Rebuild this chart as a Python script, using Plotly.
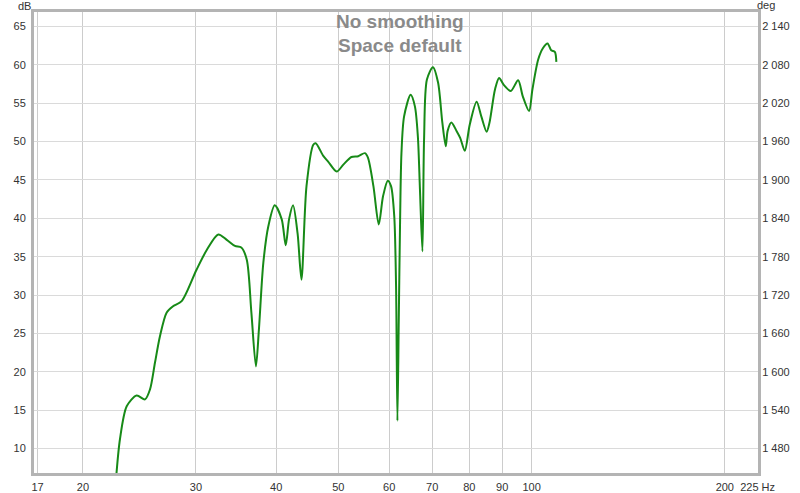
import math
import plotly.graph_objects as go

# ---- data ----
freq_hz = [22.56, 22.84, 23.4, 24.25, 24.99, 25.44, 25.9, 26.36, 27.0, 27.6, 28.5,
           30.06, 31.2, 32.5, 33.5, 34.5, 35.3, 36.0, 36.6, 37.2, 37.6, 38.2, 38.9,
           39.8, 40.8, 41.4, 41.9, 42.5, 43.2, 43.8, 44.6, 45.7, 46.1, 47.4, 48.2,
           49.7, 50.9, 52.4, 53.7, 55.0, 55.6, 56.7, 57.8, 58.7, 59.7, 60.4, 61.1,
           61.5, 61.8, 62.1, 62.4, 62.7, 63.3, 64.8, 65.8, 66.5, 67.0, 67.6, 68.0,
           68.7, 70.2, 71.5, 72.6, 73.5, 74.0, 75.0, 76.4, 77.4, 78.7, 80.1, 82.1,
           83.5, 85.1, 86.0, 87.7, 89.0, 90.5, 92.8, 95.3, 96.9, 99.1, 100.3,
           102.4, 104.2, 105.9, 107.3, 108.7, 109.3]
spl_db = [6.8, 11.2, 15.5, 16.9, 16.4, 17.7, 21.2, 24.6, 27.7, 28.5, 29.2,
          33.3, 35.9, 37.9, 37.2, 36.4, 36.2, 34.6, 27.7, 20.7, 25.5, 34.2, 39.0,
          41.7, 39.9, 36.5, 39.9, 41.7, 38.0, 32.0, 44.2, 49.6, 49.8, 48.1, 47.4,
          46.1, 47.0, 48.0, 48.1, 48.5, 47.9, 44.2, 39.2, 42.9, 44.9, 44.2, 40.3,
          31.2, 13.6, 26.8, 39.9, 48.5, 53.3, 56.1, 54.6, 50.7, 43.8, 35.7, 50.3,
          58.1, 59.7, 57.7, 52.5, 49.4, 51.4, 52.5, 51.4, 50.5, 48.8, 52.2, 55.2,
          53.3, 51.3, 52.5, 56.8, 58.3, 57.4, 56.6, 58.0, 55.9, 54.0, 56.8,
          60.7, 62.2, 62.8, 61.9, 61.7, 60.4]

x_tick_vals = [17, 20, 30, 40, 50, 60, 70, 80, 90, 100, 200, 225]
x_tick_text = ["17", "20", "30", "40", "50", "60", "70", "80", "90", "100", "200", "225 Hz"]
db_ticks = [10, 15, 20, 25, 30, 35, 40, 45, 50, 55, 60, 65]
deg_ticks = [1480, 1540, 1600, 1660, 1720, 1780, 1840, 1900, 1960, 2020, 2080, 2140]

title_lines = ["No smoothing", "Space default"]

# axis ranges
freq_range = [16.78, 225.3]
db_range = [6.8, 66.9]
def db_to_deg(v):
    return 2140 + (v - 65) * 12
deg_range = [db_to_deg(db_range[0]), db_to_deg(db_range[1])]

ML, MR, MT, MB = 34, 42, 12, 20
W, H = 800, 493

fig = go.Figure()
fig.add_trace(go.Scatter(
    x=freq_hz, y=spl_db, mode="lines",
    line=dict(color="#178a17", width=2, shape="spline", smoothing=0.8),
    hoverinfo="skip", showlegend=False))
# invisible trace to carry the right-hand axis
fig.add_trace(go.Scatter(
    x=freq_hz, y=[db_to_deg(v) for v in spl_db], mode="lines", yaxis="y2",
    line=dict(color="rgba(0,0,0,0)", width=0), hoverinfo="skip", showlegend=False))

font_family = "Liberation Sans, Arial, sans-serif"
tick_font = dict(family=font_family, size=11, color="#333333")

fig.update_layout(
    template="none",
    width=W, height=H,
    margin=dict(l=ML, r=MR, t=MT, b=MB),
    paper_bgcolor="white", plot_bgcolor="white",
    font=dict(family=font_family, size=11, color="#333333"),
    showlegend=False,
    xaxis=dict(type="log", range=[math.log10(freq_range[0]), math.log10(freq_range[1])],
               tickvals=x_tick_vals, ticktext=x_tick_text, tickfont=tick_font,
               showgrid=True, gridcolor="#cccccc", gridwidth=1,
               showline=True, linecolor="#b4b4b4", linewidth=3, mirror=True,
               ticks="outside", ticklen=2, tickcolor="rgba(0,0,0,0)",
               zeroline=False, fixedrange=True, automargin=False),
    yaxis=dict(range=db_range, tickvals=db_ticks, tickfont=tick_font,
               showgrid=True, gridcolor="#dadada", gridwidth=1,
               showline=True, linecolor="#b4b4b4", linewidth=3, mirror=True,
               ticks="outside", ticklen=3, tickcolor="rgba(0,0,0,0)",
               zeroline=False, fixedrange=True, automargin=False),
    yaxis2=dict(range=deg_range, overlaying="y", side="right", anchor="x",
                tickvals=deg_ticks,
                ticktext=["{:,}".format(v).replace(",", " ") for v in deg_ticks],
                tickfont=tick_font, showgrid=False, zeroline=False, showline=False,
                ticks="outside", ticklen=1, tickcolor="rgba(0,0,0,0)",
                fixedrange=True, automargin=False),
)

plot_h = H - MT - MB
plot_w = W - ML - MR
def px_to_paper_x(px):
    return (px - ML) / plot_w
def px_to_paper_y(py):
    return 1 - (py - MT) / plot_h

annotations = [
    dict(text=title_lines[0], x=px_to_paper_x(400), y=px_to_paper_y(22)),
    dict(text=title_lines[1], x=px_to_paper_x(400), y=px_to_paper_y(45)),
]
for a in annotations:
    a.update(xref="paper", yref="paper", xanchor="center", yanchor="middle",
             showarrow=False,
             font=dict(family=font_family, size=19, color="#8a8a8a", weight="bold"))
    fig.add_annotation(**a)

fig.add_annotation(text="dB", x=px_to_paper_x(24), y=px_to_paper_y(6),
                   xref="paper", yref="paper", xanchor="center", yanchor="middle",
                   showarrow=False, font=dict(family=font_family, size=11, color="#333333"))
fig.add_annotation(text="deg", x=px_to_paper_x(766), y=px_to_paper_y(5),
                   xref="paper", yref="paper", xanchor="center", yanchor="middle",
                   showarrow=False, font=dict(family=font_family, size=11, color="#333333"))

fig.write_html("out.html", config={"displayModeBar": False},
               post_script="document.body.style.margin='0';")
